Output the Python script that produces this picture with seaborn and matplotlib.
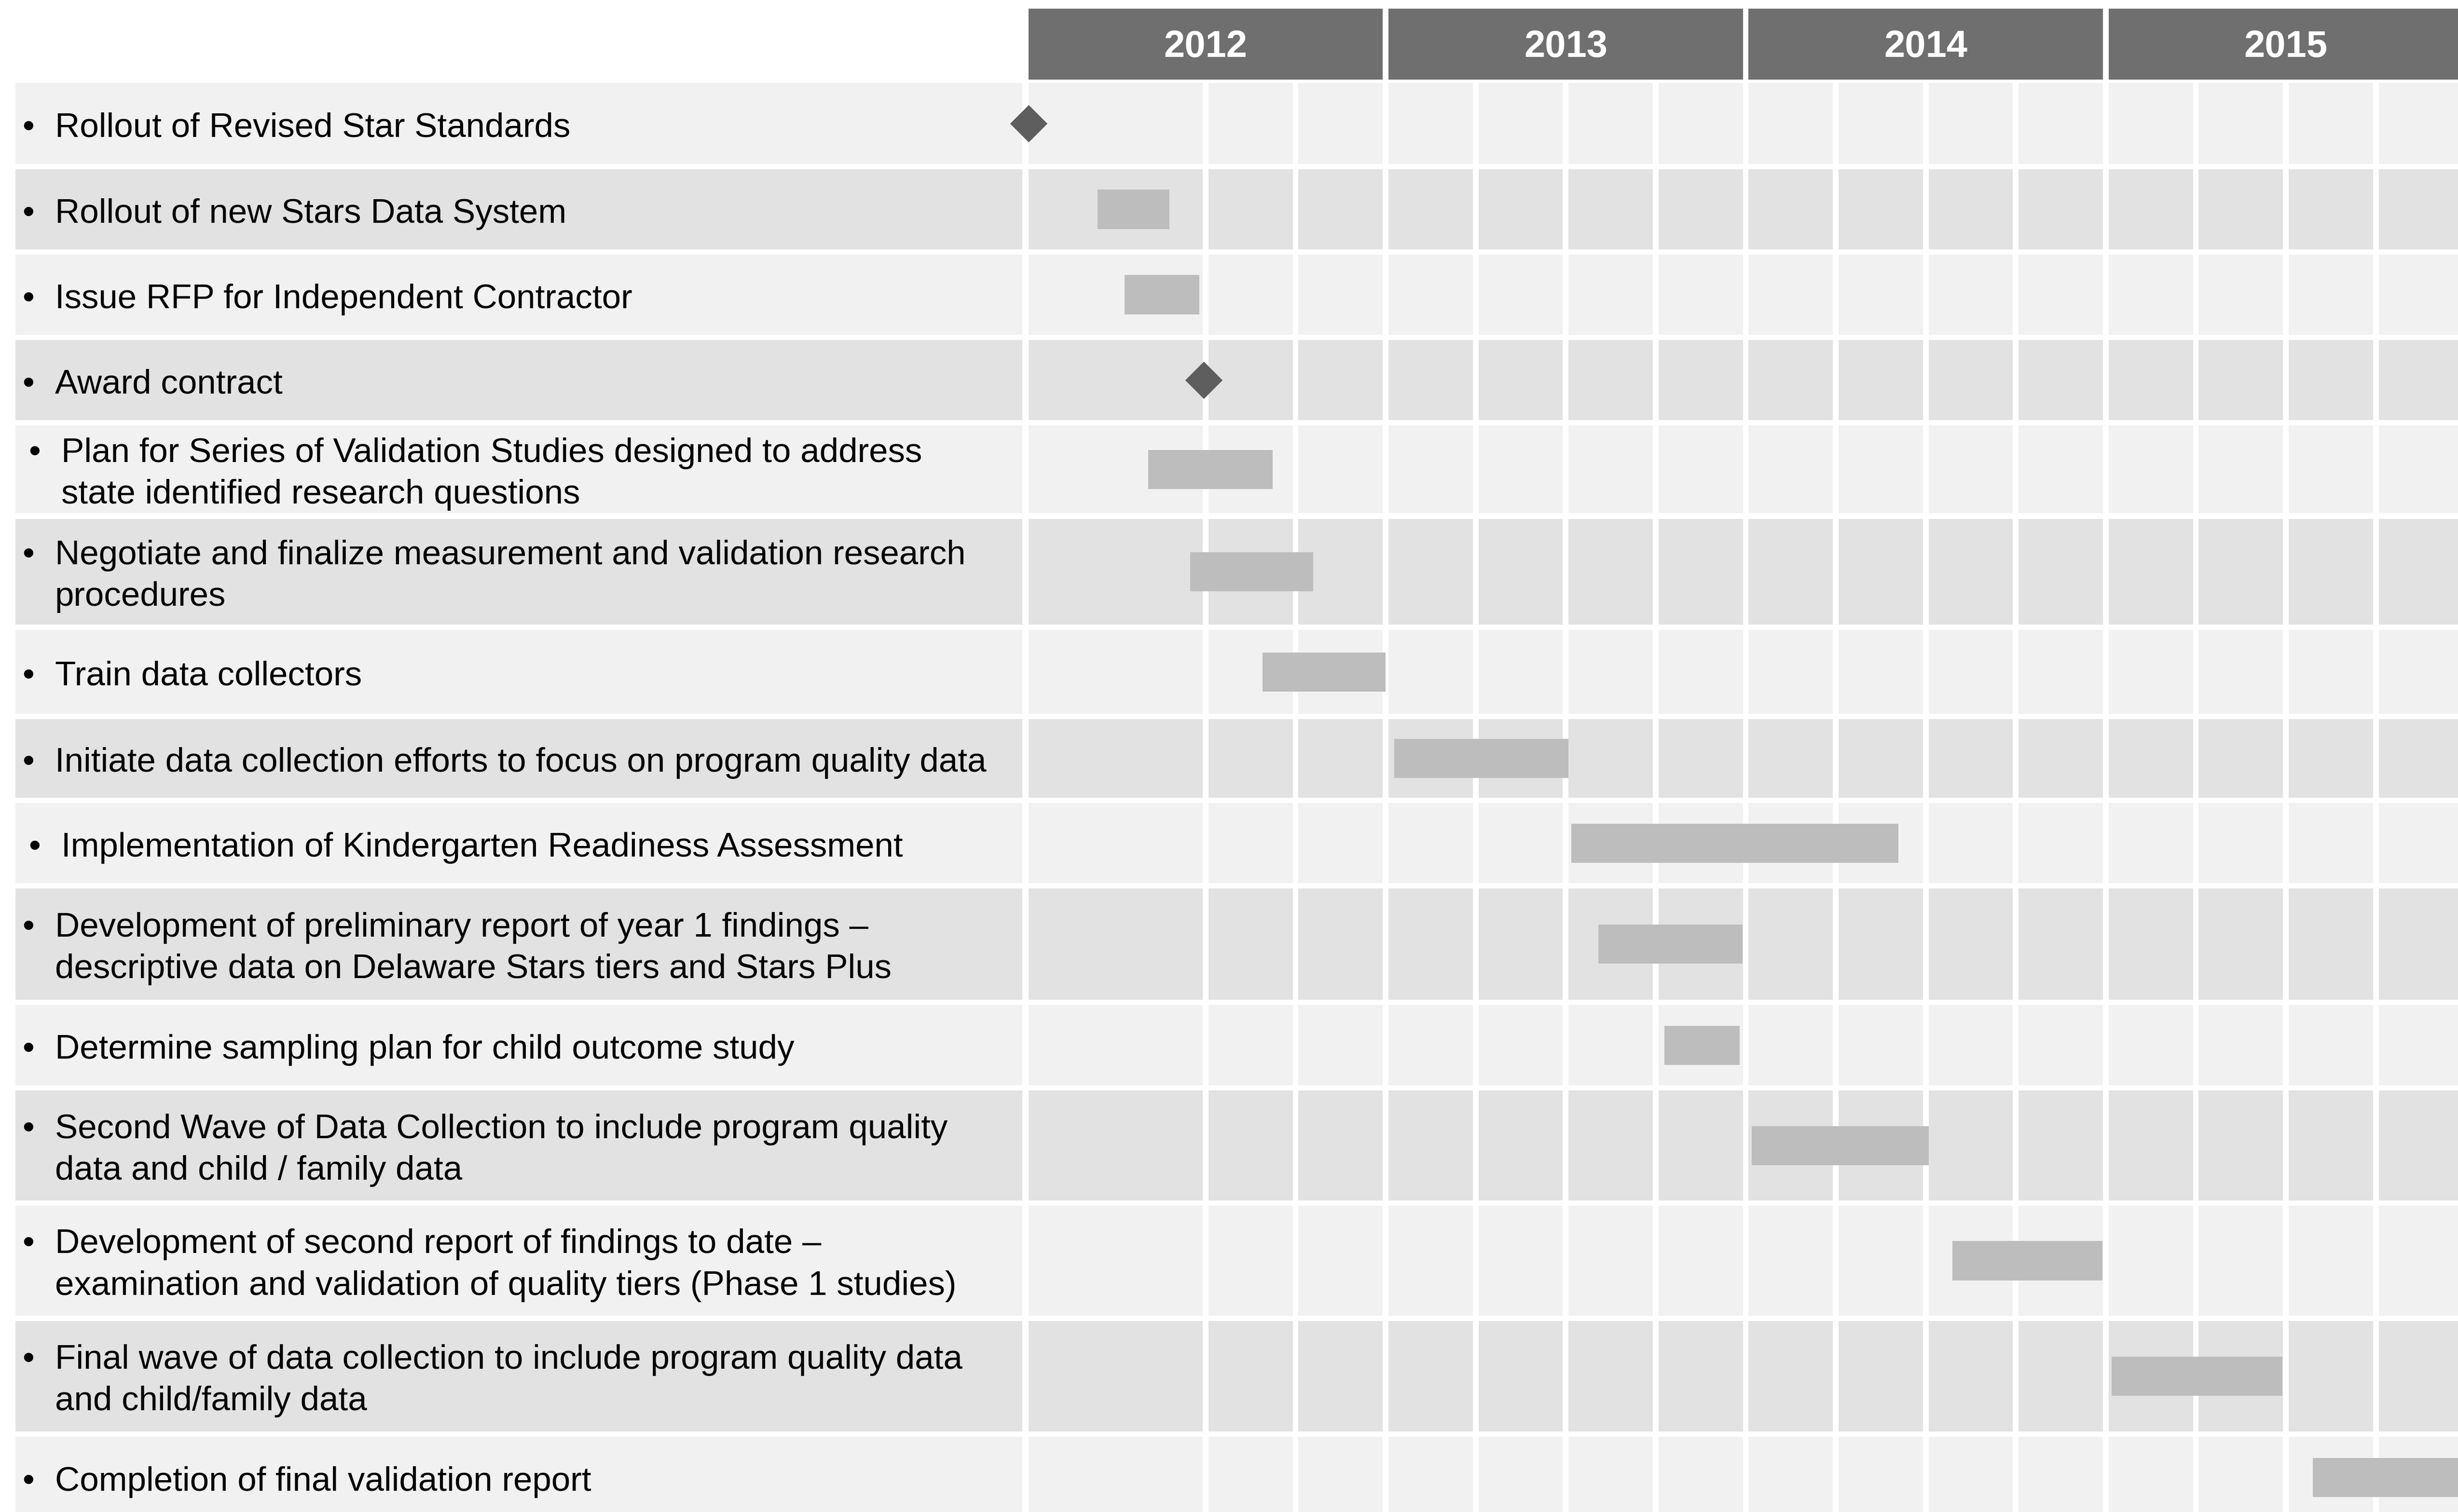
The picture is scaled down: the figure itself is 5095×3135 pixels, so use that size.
import matplotlib
matplotlib.use("Agg")
import matplotlib.pyplot as plt
import seaborn as sns
import pandas as pd

# ---- data ----
tasks = [
    "Rollout of Revised Star Standards",
    "Rollout of new Stars Data System",
    "Issue RFP for Independent Contractor",
    "Award contract",
    "Plan for Series of Validation Studies designed to address\nstate identified research questions",
    "Negotiate and finalize measurement and validation research\nprocedures",
    "Train data collectors",
    "Initiate data collection efforts to focus on program quality data",
    "Implementation of Kindergarten Readiness Assessment",
    "Development of preliminary report of year 1 findings \u2013\ndescriptive data on Delaware Stars tiers and Stars Plus",
    "Determine sampling plan for child outcome study",
    "Second Wave of Data Collection to include program quality\ndata and child / family data",
    "Development of second report of findings to date \u2013\nexamination and validation of quality tiers (Phase 1 studies)",
    "Final wave of data collection to include program quality data\nand child/family data",
    "Completion of final validation report",
]
# months counted from Jan 2012
start_month = [0, 2.3, 3.2, 5.85, 4.0, 5.4, 7.8, 12.2, 18.1, 19.0, 21.2, 24.1, 30.8, 36.1, 42.8]
end_month = [0, 4.7, 5.7, 5.85, 8.15, 9.5, 11.9, 18.0, 29.0, 23.8, 23.7, 30.0, 35.8, 41.8, 48.0]
kind = ["milestone", "task", "task", "milestone", "task", "task", "task", "task",
        "task", "task", "task", "task", "task", "task", "task"]
years = ["2012", "2013", "2014", "2015"]
# grid column edges (months); first half of 2012 is one cell
col_edges = [0, 6, 9, 12, 15, 18, 21, 24, 27, 30, 33, 36, 39, 42, 45, 48]

df = pd.DataFrame({"task": tasks, "start": start_month, "end": end_month, "kind": kind})

# ---- layout (units = pixels of a 1568x965 canvas) ----
W, H = 1568, 965
PX_MONTH = 229.7 / 12
T0 = 656
row_h = [51.6, 51, 51, 51, 56, 67.5, 53.5, 50, 51, 71, 51, 70, 70, 70.5, 52]
gap = 3.5
tops = []
y = 53
for h in row_h:
    tops.append(y)
    y += h + gap
centers = [t + h / 2 for t, h in zip(tops, row_h)]
df["y"] = centers
indent = [0, 0, 0, 0, 4, 0, 0, 0, 4, 0, 0, 0, 0, 0, 0]

light, dark = "#f1f1f1", "#e2e2e2"
bar_col, dia_col, head_col = "#bdbdbd", "#5e5e5e", "#6f6f6f"

sns.set_style("white")
plt.rcParams["font.family"] = ["Liberation Sans", "DejaVu Sans"]
plt.rcParams["text.color"] = "black"

fig = plt.figure(figsize=(50.95, 31.35), dpi=100)
ax_l = fig.add_axes([0, 0, T0 / W, 1])
ax = fig.add_axes([T0 / W, 0, (W - T0) / W, 1])
ax_l.set_xlim(0, T0)
ax_l.set_ylim(H, 0)
for a in (ax_l, ax):
    a.axis("off")

gm = 3.6 / PX_MONTH  # white gap between cells in months

# header
for i, yr in enumerate(years):
    ax.barh(28.2, 12 - gm, left=12 * i, height=45.2, color=head_col, lw=0)
    ax.text(12 * i + (12 - gm) / 2, 30, yr, color="white", fontsize=56,
            fontweight="bold", ha="center", va="center")

# row backgrounds
for i, (t, h) in enumerate(zip(tops, row_h)):
    c = light if i % 2 == 0 else dark
    ax_l.barh(t + h / 2, 642, left=10, height=h, color=c, lw=0)
    for a, b in zip(col_edges[:-1], col_edges[1:]):
        ax.barh(t + h / 2, b - a - gm, left=a, height=h, color=c, lw=0)

# labels
for i, (lab, yc) in enumerate(zip(tasks, centers)):
    lines = lab.split("\n")
    n = len(lines)
    for k, line in enumerate(lines):
        yl = yc + (k - (n - 1) / 2) * 26.5 + 8.5
        if k == 0:
            ax_l.text(18 + indent[i], yl, "\u2022", fontsize=51, color="black",
                      ha="center", va="baseline")
        ax_l.text(35 + indent[i], yl, line, fontsize=51, color="black",
                  ha="left", va="baseline")

# task bars
bars = df[df["kind"] == "task"]
ax.barh(bars["y"], bars["end"] - bars["start"], left=bars["start"], height=25,
        color=bar_col, lw=0, zorder=3)

# milestones
ms = df[df["kind"] == "milestone"]
sns.scatterplot(data=ms, x="start", y="y", marker="D", s=1550, color=dia_col,
                linewidth=0, ax=ax, zorder=4, clip_on=False, legend=False)
ax.set_xlim(0, (W - T0) / PX_MONTH)
ax.set_ylim(H, 0)
ax.axis("off")

fig.savefig("out.png", dpi=100)
